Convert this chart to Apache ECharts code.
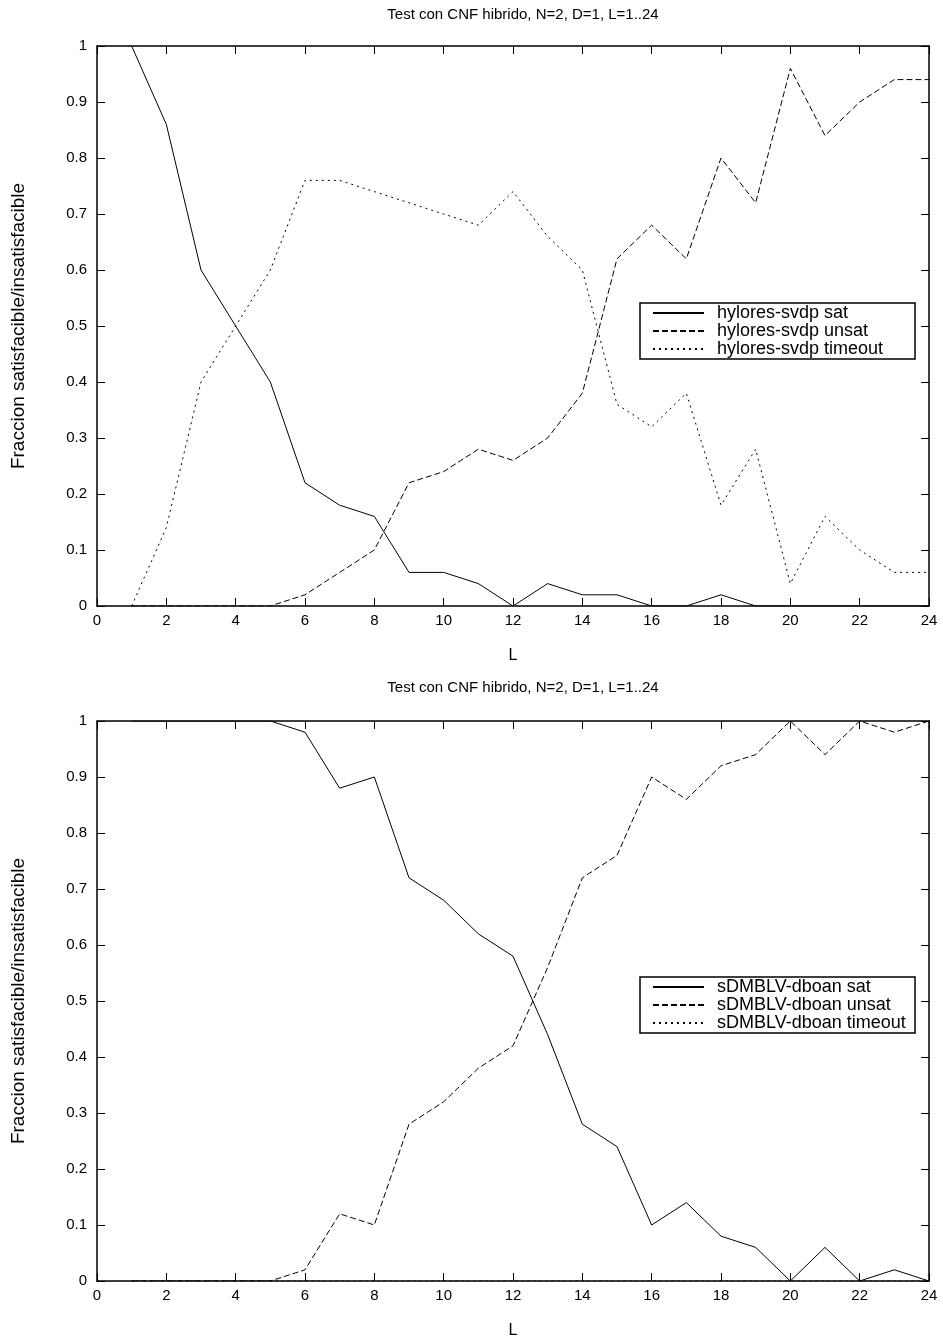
<!DOCTYPE html>
<html lang="es">
<head>
<meta charset="UTF-8" />
<title>Test con CNF hibrido</title>
<script src="https://cdn.jsdelivr.net/npm/echarts@6/dist/echarts.min.js"></script>
<style>
  html, body { margin: 0; padding: 0; background: #fff; }
  #chart { width: 943px; height: 1338px; }
</style>
</head>
<body>
<div id="chart"></div>
<script>
// valores de L
var L = [1, 2, 3, 4, 5, 6, 7, 8, 9, 10, 11, 12, 13, 14, 15, 16, 17, 18, 19, 20, 21, 22, 23, 24];

// grafico de arriba: hylores-svdp
var hyloresSat = [1.0, 0.86, 0.60, 0.50, 0.40, 0.22, 0.18, 0.16, 0.06, 0.06, 0.04, 0.0, 0.04, 0.02, 0.02, 0.0, 0.0, 0.02, 0.0, 0.0, 0.0, 0.0, 0.0, 0.0];
var hyloresUnsat = [0, 0, 0, 0, 0, 0.02, 0.06, 0.10, 0.22, 0.24, 0.28, 0.26, 0.30, 0.38, 0.62, 0.68, 0.62, 0.80, 0.72, 0.96, 0.84, 0.90, 0.94, 0.94];
var hyloresTimeout = [0, 0.14, 0.40, 0.50, 0.60, 0.76, 0.76, 0.74, 0.72, 0.70, 0.68, 0.74, 0.66, 0.60, 0.36, 0.32, 0.38, 0.18, 0.28, 0.04, 0.16, 0.10, 0.06, 0.06];

// grafico de abajo: sDMBLV-dboan
var sdmSat = [1, 1, 1, 1, 1, 0.98, 0.88, 0.90, 0.72, 0.68, 0.62, 0.58, 0.44, 0.28, 0.24, 0.10, 0.14, 0.08, 0.06, 0.0, 0.06, 0.0, 0.02, 0.0];
var sdmUnsat = [0, 0, 0, 0, 0, 0.02, 0.12, 0.10, 0.28, 0.32, 0.38, 0.42, 0.56, 0.72, 0.76, 0.90, 0.86, 0.92, 0.94, 1.0, 0.94, 1.0, 0.98, 1.0];
var sdmTimeout = [0, 0, 0, 0, 0, 0, 0, 0, 0, 0, 0, 0, 0, 0, 0, 0, 0, 0, 0, 0, 0, 0, 0, 0];

var titulo = 'Test con CNF hibrido, N=2, D=1, L=1..24';
var nombreY = 'Fraccion satisfacible/insatisfacible';

var FONT = '"Liberation Sans", Arial, sans-serif';
var DASH = [6, 3];
var DOT = [2, 4];

function pares(vals) {
  return L.map(function (l, i) { return [l, vals[i]]; });
}

var grids = [
  { left: 97, width: 832, top: 46, height: 560, outerBoundsMode: 'none', containLabel: false },
  { left: 97, width: 832, top: 721, height: 560, outerBoundsMode: 'none', containLabel: false }
];

var linea = { onZero: false, lineStyle: { color: '#000', width: 1.5 } };
var marca = { show: true, inside: true, length: 8, lineStyle: { color: '#000', width: 1 } };

var xAxes = [];
var yAxes = [];
[0, 1].forEach(function (g) {
  // eje x de abajo con etiquetas
  xAxes.push({
    type: 'value', gridIndex: g, position: 'bottom', min: 0, max: 24, interval: 2,
    name: 'L', nameLocation: 'middle', nameGap: 42,
    nameTextStyle: { fontFamily: FONT, fontSize: 16, color: '#000' },
    axisLine: linea, axisTick: marca,
    axisLabel: { margin: 7, fontFamily: FONT, fontSize: 15, color: '#000' },
    splitLine: { show: false }
  });
  // eje x de arriba, solo marcas
  xAxes.push({
    type: 'value', gridIndex: g, position: 'top', min: 0, max: 24, interval: 2,
    axisLine: linea, axisTick: marca,
    axisLabel: { show: false },
    splitLine: { show: false }
  });
  yAxes.push({
    type: 'value', gridIndex: g, position: 'left', min: 0, max: 1, interval: 0.1,
    name: nombreY, nameLocation: 'middle', nameGap: 69,
    nameTextStyle: { fontFamily: FONT, fontSize: 19, color: '#000' },
    axisLine: linea, axisTick: marca,
    axisLabel: { margin: 10, fontFamily: FONT, fontSize: 15, color: '#000' },
    splitLine: { show: false }
  });
  yAxes.push({
    type: 'value', gridIndex: g, position: 'right', min: 0, max: 1, interval: 0.1,
    axisLine: linea, axisTick: marca,
    axisLabel: { show: false },
    splitLine: { show: false }
  });
});

function serie(name, vals, g, tipo) {
  return {
    name: name, type: 'line', xAxisIndex: g * 2, yAxisIndex: g * 2,
    data: pares(vals), symbol: 'none', showSymbol: false,
    lineStyle: { color: '#000', width: 1, type: tipo },
    itemStyle: { color: '#000' },
    z: 3
  };
}

var nombresArriba = ['hylores-svdp sat', 'hylores-svdp unsat', 'hylores-svdp timeout'];
var nombresAbajo = ['sDMBLV-dboan sat', 'sDMBLV-dboan unsat', 'sDMBLV-dboan timeout'];

var series = [
  serie(nombresArriba[0], hyloresSat, 0, 'solid'),
  serie(nombresArriba[1], hyloresUnsat, 0, DASH),
  serie(nombresArriba[2], hyloresTimeout, 0, DOT),
  serie(nombresAbajo[0], sdmSat, 1, 'solid'),
  serie(nombresAbajo[1], sdmUnsat, 1, DASH),
  serie(nombresAbajo[2], sdmTimeout, 1, DOT)
];

function leyenda(nombres, top) {
  return {
    data: nombres, orient: 'vertical', left: 640, top: top,
    itemWidth: 51, itemHeight: 18, itemGap: 0,
    padding: [1, 2, 1, 12],
    borderColor: '#000', borderWidth: 1.5, borderRadius: 0,
    backgroundColor: '#fff',
    selectedMode: false,
    itemStyle: { opacity: 0, color: 'transparent', borderWidth: 0 },
    formatter: function (n) { return '{t|' + n + '}'; },
    textStyle: {
      fontFamily: FONT, fontSize: 18, color: '#000',
      rich: { t: { width: 196, padding: [0, 0, 0, 8], fontFamily: FONT, fontSize: 18, lineHeight: 18, color: '#000' } }
    }
  };
}

var chart = echarts.init(document.getElementById('chart'), null, { renderer: 'canvas' });
chart.setOption({
  animation: false,
  backgroundColor: '#fff',
  title: [
    { text: titulo, left: 518, top: 2, textAlign: 'center',
      textStyle: { fontFamily: FONT, fontSize: 15, fontWeight: 'normal', color: '#000' } },
    { text: titulo, left: 518, top: 675, textAlign: 'center',
      textStyle: { fontFamily: FONT, fontSize: 15, fontWeight: 'normal', color: '#000' } }
  ],
  grid: grids,
  xAxis: xAxes,
  yAxis: yAxes,
  legend: [leyenda(nombresArriba, 303), leyenda(nombresAbajo, 977)],
  series: series
});
</script>
</body>
</html>
